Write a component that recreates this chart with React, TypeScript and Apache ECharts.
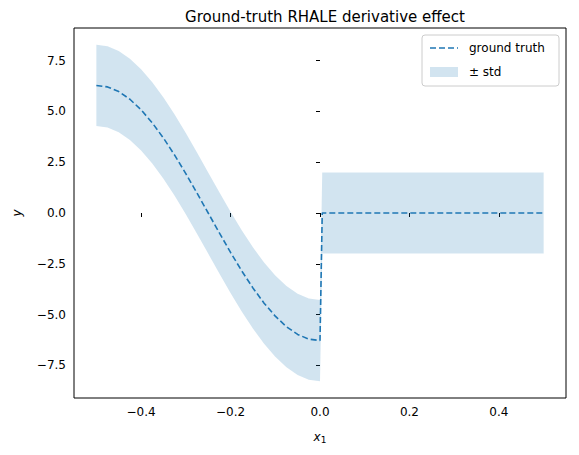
import { useEffect, useRef } from 'react';
import * as echarts from 'echarts';

// x positions and the dashed ground-truth curve
const xs = [
  -0.5, -0.475, -0.45, -0.425, -0.4, -0.375, -0.35, -0.325, -0.3, -0.275, -0.25,
  -0.225, -0.2, -0.175, -0.15, -0.125, -0.1, -0.075, -0.05, -0.025, 0, 0.005, 0.5,
];
const truth = [
  6.28, 6.21, 5.98, 5.6, 5.08, 4.44, 3.69, 2.85, 1.94, 0.98, 0, -0.98, -1.94, -2.85,
  -3.69, -4.44, -5.08, -5.6, -5.98, -6.21, -6.28, 0, 0,
];
const stds = [2, 2, 2, 2, 2, 2, 2, 2, 2, 2, 2, 2, 2, 2, 2, 2, 2, 2, 2, 2, 2, 2, 2];
const xTicks = [-0.4, -0.2, 0, 0.2, 0.4];
const yTicks = [-7.5, -5, -2.5, 0, 2.5, 5, 7.5];

const BLUE = '#1f77b4';
const FONT = 'DejaVu Sans';

export default function App() {
  const ref = useRef<HTMLDivElement>(null);

  useEffect(() => {
    if (!ref.current) return;
    const chart = echarts.init(ref.current, undefined, { renderer: 'svg' });

    const line = xs.map((x, i) => [x, truth[i]]);
    // band polygon: upper edge left to right, then lower edge back
    const band = [
      ...xs.map((x, i) => [x, truth[i] + stds[i]]),
      ...xs.map((x, i) => [x, truth[i] - stds[i]]).reverse(),
    ];

    const fmt = (v: number) => v.toFixed(1).replace('-', '−');

    chart.setOption({
      animation: false,
      textStyle: { fontFamily: FONT },
      title: {
        text: 'Ground-truth RHALE derivative effect',
        left: 320,
        top: 4,
        textAlign: 'center',
        textStyle: { fontSize: 15, fontWeight: 'normal', color: '#000', fontFamily: FONT },
      },
      grid: { left: 74, right: 13, top: 28, bottom: 57, show: true, borderColor: '#000', borderWidth: 1 },
      xAxis: {
        type: 'value',
        min: -0.55,
        max: 0.55,
        axisLine: { show: false },
        splitLine: { show: false },
        axisTick: { show: true, length: 4, lineStyle: { color: '#000' }, customValues: xTicks },
        axisLabel: { customValues: xTicks, color: '#000', fontSize: 12, formatter: fmt },
      },
      yAxis: {
        type: 'value',
        min: -9.11,
        max: 9.11,
        axisLine: { show: false },
        splitLine: { show: false },
        axisTick: { show: true, length: 4, lineStyle: { color: '#000' }, customValues: yTicks },
        axisLabel: { customValues: yTicks, color: '#000', fontSize: 12, formatter: fmt },
      },
      series: [
        {
          type: 'custom',
          data: [0],
          renderItem: (_p: any, api: any) => ({
            type: 'polygon',
            shape: { points: band.map((p) => api.coord(p)) },
            style: { fill: BLUE, opacity: 0.2 },
          }),
        },
        {
          type: 'line',
          data: line,
          symbol: 'none',
          lineStyle: { color: BLUE, width: 1.6, type: [6, 3] },
        },
      ],
      graphic: [
        {
          type: 'text',
          x: 17,
          y: 213,
          rotation: Math.PI / 2,
          style: { text: 'y', font: `italic 12px ${FONT}`, fill: '#000', align: 'center', verticalAlign: 'middle' },
        },
        {
          type: 'text',
          x: 320,
          y: 437,
          style: {
            text: '{a|x}{b|1}',
            align: 'center',
            verticalAlign: 'middle',
            rich: {
              a: { font: `italic 12px ${FONT}`, fill: '#000' },
              b: { font: `9px ${FONT}`, fill: '#000', padding: [6, 0, 0, 0] },
            },
          },
        },
        {
          type: 'rect',
          shape: { x: 422, y: 35, width: 137, height: 51, r: 3 },
          style: { fill: 'rgba(255,255,255,0.8)', stroke: '#ccc', lineWidth: 1 },
        },
        {
          type: 'line',
          shape: { x1: 430, y1: 48, x2: 458, y2: 48 },
          style: { stroke: BLUE, lineWidth: 1.6, lineDash: [6, 3] },
        },
        {
          type: 'text',
          x: 469,
          y: 48,
          style: { text: 'ground truth', font: `12px ${FONT}`, fill: '#000', verticalAlign: 'middle' },
        },
        {
          type: 'rect',
          shape: { x: 430, y: 67, width: 28, height: 10 },
          style: { fill: BLUE, opacity: 0.2 },
        },
        {
          type: 'text',
          x: 469,
          y: 72,
          style: { text: '± std', font: `12px ${FONT}`, fill: '#000', verticalAlign: 'middle' },
        },
      ],
    });

    return () => chart.dispose();
  }, []);

  return <div ref={ref} style={{ width: 579, height: 455, margin: -8 }} />;
}
